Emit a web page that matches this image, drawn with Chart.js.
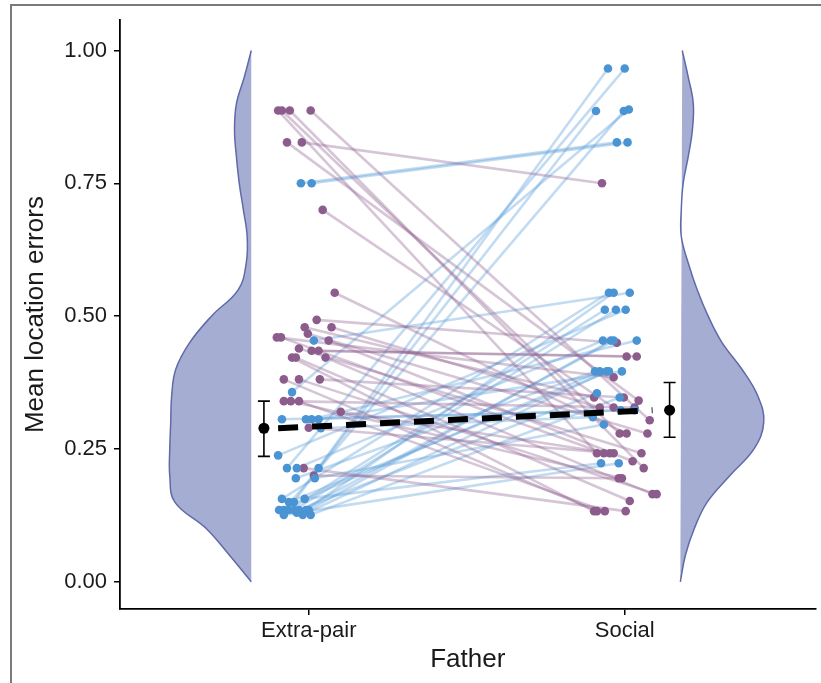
<!DOCTYPE html>
<html>
<head>
<meta charset="utf-8">
<script src="https://cdn.jsdelivr.net/npm/chart.js@4.4.1/dist/chart.umd.min.js"></script>
<style>
  html, body { margin: 0; padding: 0; background: #fff; }
  #wrap { position: relative; width: 821px; height: 683px; overflow: hidden; }
  #frame { position: absolute; left: 10px; top: 4px; width: 900px; height: 800px;
           border-left: 2px solid #7a7a7a; border-top: 2px solid #7a7a7a; pointer-events: none; }
</style>
</head>
<body>
<div id="wrap">
  <canvas id="chart-body" width="821" height="683"></canvas>
  <div id="frame"></div>
</div>
<script>
const categories = ['Extra-pair', 'Social'];
const yTicks = [0, 0.25, 0.5, 0.75, 1];

// one entry per bird: error under the extra-pair father and under the social father
const extraPairY = [0.887, 0.887, 0.887, 0.887, 0.827, 0.827, 0.700, 0.544, 0.493, 0.479,
                    0.479, 0.467, 0.460, 0.460, 0.454, 0.439, 0.435, 0.435, 0.422, 0.422,
                    0.422, 0.381, 0.381, 0.381, 0.340, 0.340, 0.340, 0.320, 0.290, 0.214,
                    0.200, 0.750, 0.750, 0.454, 0.357, 0.306, 0.306, 0.306, 0.306, 0.289,
                    0.238, 0.214, 0.214, 0.214, 0.195, 0.195, 0.156, 0.150, 0.156, 0.135,
                    0.135, 0.135, 0.135, 0.135, 0.135, 0.126, 0.126, 0.126, 0.135, 0.130,
                    0.150];
const extraPairX = [0.903, 0.915, 0.940, 1.006, 0.931, 0.978, 1.044, 1.082, 1.025, 0.987,
                    1.072, 0.997, 0.899, 0.912, 1.063, 0.969, 1.009, 1.031, 1.053, 0.947,
                    0.959, 0.921, 0.969, 1.035, 0.921, 0.943, 0.969, 1.101, 1.000, 0.984,
                    1.016, 0.975, 1.009, 1.016, 0.947, 0.915, 0.991, 1.009, 1.031, 1.038,
                    0.903, 0.931, 0.962, 1.031, 0.959, 1.019, 0.915, 0.953, 0.987, 0.906,
                    0.921, 0.937, 0.969, 0.991, 1.000, 0.921, 0.981, 1.006, 0.953, 0.962,
                    0.937];
const socialY = [0.242, 0.279, 0.214, 0.304, 0.341, 0.750, 0.328, 0.279, 0.450, 0.347,
                 0.328, 0.279, 0.385, 0.242, 0.227, 0.242, 0.424, 0.424, 0.165, 0.133,
                 0.152, 0.133, 0.165, 0.347, 0.328, 0.195, 0.133, 0.242, 0.242, 0.133,
                 0.195, 0.827, 0.827, 0.544, 0.889, 0.323, 0.323, 0.454, 0.396, 0.310,
                 0.512, 0.966, 0.454, 0.886, 0.396, 0.296, 0.544, 0.966, 0.223, 0.396,
                 0.886, 0.512, 0.355, 0.544, 0.454, 0.223, 0.396, 0.347, 0.512, 0.454,
                 0.396];
const socialX = [1.912, 1.984, 2.060, 2.079, 2.044, 1.928, 1.965, 2.006, 1.975, 1.903,
                 1.921, 2.072, 1.965, 1.934, 2.025, 2.053, 2.006, 2.038, 2.088, 1.903,
                 2.016, 1.912, 2.101, 1.997, 2.031, 1.991, 1.937, 1.953, 1.965, 2.003,
                 1.981, 1.975, 2.009, 2.016, 2.013, 2.031, 1.987, 2.038, 1.991, 1.899,
                 2.003, 2.000, 1.931, 1.909, 1.906, 1.934, 1.950, 1.947, 1.925, 1.921,
                 1.997, 1.937, 1.912, 1.965, 1.956, 1.981, 1.943, 1.984, 1.972, 1.965,
                 1.950];

// half-violin densities (width in x units) at each error level
const densityLevels    = [0, 0.05, 0.10, 0.15, 0.20, 0.25, 0.30, 0.35, 0.40, 0.45, 0.50,
                          0.55, 0.60, 0.65, 0.70, 0.75, 0.80, 0.85, 0.90, 0.95, 1.00];
const extraPairDensity = [0, 0.069, 0.142, 0.242, 0.258, 0.258, 0.255, 0.252, 0.239, 0.195, 0.126,
                          0.041, 0.016, 0.013, 0.025, 0.038, 0.047, 0.053, 0.047, 0.022, 0];
const socialDensity    = [0, 0.016, 0.044, 0.085, 0.157, 0.233, 0.264, 0.245, 0.195, 0.132, 0.088,
                          0.053, 0.025, 0.003, 0.003, 0.009, 0.025, 0.038, 0.041, 0.025, 0.006];
const violinBase = [0.818, 2.176];

// group means with error bars, and the fitted line between them
const meanX = [0.858, 2.142];
const meanValues = [0.289, 0.323];
const ciLow = [0.236, 0.272];
const ciHigh = [0.340, 0.375];
const trendX = [0.903, 2.088];

const FONT = '"Liberation Sans", Arial, Helvetica, sans-serif';
const PURPLE = '#8b5c8c';
const BLUE = '#4a94d3';
const PURPLE_LINE = 'rgba(140, 95, 140, 0.36)';
const BLUE_LINE = 'rgba(95, 160, 218, 0.38)';

function violinData(base, widths, dir) {
    return densityLevels.map((y, i) => ({ x: base + dir * widths[i], y: y }));
}

function initializeChart() {
    const datasets = [];

    // mean trend, error bars, means (drawn on top)
    datasets.push({
        type: 'line', order: 0,
        data: [{ x: trendX[0], y: meanValues[0] }, { x: trendX[1], y: meanValues[1] }],
        borderColor: '#000', borderWidth: 6, borderDash: [20, 14], borderCapStyle: 'butt',
        pointRadius: 0, fill: false
    });
    const cap = 0.019;
    meanX.forEach((x, i) => {
        [[{ x: x, y: ciLow[i] }, { x: x, y: ciHigh[i] }],
         [{ x: x - cap, y: ciLow[i] }, { x: x + cap, y: ciLow[i] }],
         [{ x: x - cap, y: ciHigh[i] }, { x: x + cap, y: ciHigh[i] }]].forEach(seg => {
            datasets.push({
                type: 'line', order: 0, data: seg,
                borderColor: '#000', borderWidth: 1.6, pointRadius: 0, fill: false
            });
        });
    });
    datasets.push({
        type: 'scatter', order: 0,
        data: meanX.map((x, i) => ({ x: x, y: meanValues[i] })),
        pointRadius: 5.5, pointBackgroundColor: '#000', pointBorderWidth: 0
    });

    // individual points
    const colours = extraPairY.map((v, i) => socialY[i] > v ? BLUE : PURPLE);
    datasets.push({
        type: 'scatter', order: 1,
        data: extraPairY.map((v, i) => ({ x: extraPairX[i], y: v })),
        pointRadius: 4.3, pointBackgroundColor: colours, pointBorderWidth: 0
    });
    datasets.push({
        type: 'scatter', order: 1,
        data: socialY.map((v, i) => ({ x: socialX[i], y: v })),
        pointRadius: 4.3, pointBackgroundColor: colours, pointBorderWidth: 0
    });

    // paired lines
    extraPairY.forEach((v, i) => {
        datasets.push({
            type: 'line', order: 2,
            data: [{ x: extraPairX[i], y: v }, { x: socialX[i], y: socialY[i] }],
            borderColor: socialY[i] > v ? BLUE_LINE : PURPLE_LINE,
            borderWidth: 2.6, pointRadius: 0, fill: false
        });
    });

    // half violins
    [violinData(violinBase[0], extraPairDensity, -1),
     violinData(violinBase[1], socialDensity, 1)].forEach(d => {
        datasets.push({
            type: 'line', order: 3, data: d,
            borderColor: '#5e6aa9', borderWidth: 1.5,
            backgroundColor: '#a6add2', fill: 'shape',
            tension: 0.4, pointRadius: 0
        });
    });

    const ctx = document.getElementById('chart-body').getContext('2d');
    window.chart = new Chart(ctx, {
        type: 'scatter',
        data: { datasets: datasets },
        options: {
            responsive: false,
            animation: false,
            devicePixelRatio: 1,
            layout: { padding: { top: 18, right: 1, left: 0, bottom: 0 } },
            plugins: { legend: { display: false }, tooltip: { enabled: false } },
            scales: {
                x: {
                    type: 'linear', min: 0.4025, max: 2.6038,
                    afterBuildTicks: s => { s.ticks = [1, 2].map(v => ({ value: v })); },
                    afterFit: s => { s.height = 74; },
                    ticks: {
                        callback: v => categories[v - 1],
                        font: { family: FONT, size: 22 }, color: '#1a1a1a',
                        padding: 3, maxRotation: 0, autoSkip: false
                    },
                    grid: { drawOnChartArea: false, tickLength: 6, color: '#000', lineWidth: 1.5 },
                    border: { color: '#000', width: 1.8 },
                    title: {
                        display: true, text: 'Father', color: '#1a1a1a',
                        font: { family: FONT, size: 26 }, padding: { top: 0, bottom: 8 }
                    }
                },
                y: {
                    type: 'linear', min: -0.0512, max: 1.057,
                    afterBuildTicks: s => { s.ticks = yTicks.map(v => ({ value: v })); },
                    afterFit: s => { s.width = 120; },
                    ticks: {
                        callback: v => v.toFixed(2),
                        font: { family: FONT, size: 22 }, color: '#1a1a1a', padding: 7
                    },
                    grid: { drawOnChartArea: false, tickLength: 6, color: '#000', lineWidth: 1.5 },
                    border: { color: '#000', width: 1.8 },
                    title: {
                        display: true, text: 'Mean location errors', color: '#1a1a1a',
                        font: { family: FONT, size: 26 }, padding: { top: 20, bottom: 0 }
                    }
                }
            }
        }
    });
}

initializeChart();
</script>
</body>
</html>
